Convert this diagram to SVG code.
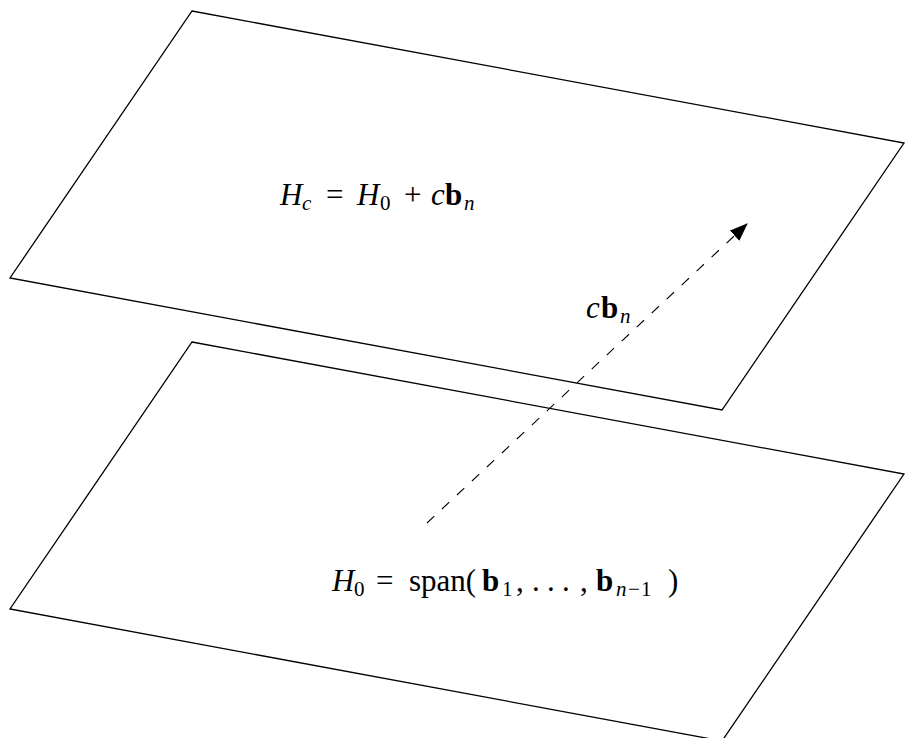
<svg xmlns="http://www.w3.org/2000/svg" width="906" height="738" viewBox="0 0 906 738">
<style>
.plane{fill:none;stroke:#000;stroke-width:1.3;stroke-linejoin:miter}
.lbl{font-family:"Liberation Serif","DejaVu Serif",serif;font-size:31px;fill:#000}
.it{font-style:italic}
.bf{font-weight:bold}
.sub{font-size:21px}
</style>
<defs>
<marker id="ah" viewBox="0 0 18 14" refX="17" refY="7" markerWidth="18" markerHeight="14" markerUnits="userSpaceOnUse" orient="auto">
<path d="M0,0 L18,7 L0,14 Z" fill="#000"/>
</marker>
</defs>
<rect width="906" height="738" fill="#fff"/>
<g id="plane-H0">
<polygon class="plane" points="192,342 904,474 722,741 10,609"/>
</g>
<g id="plane-Hc">
<polygon class="plane" points="192,11 904,143 722,410 10,278"/>
</g>
<g id="connectors">
<line x1="427" y1="523" x2="747" y2="224" stroke="#000" stroke-width="1.1" stroke-dasharray="10,10.5" marker-end="url(#ah)"/>
</g>
<g id="label-Hc">
<text class="lbl" y="205"><tspan class="it" x="280">H</tspan><tspan class="it sub" x="302" dy="5">c</tspan><tspan x="326" dy="-5">=</tspan><tspan class="it" x="357">H</tspan><tspan class="sub" x="380" dy="5">0</tspan><tspan x="404" dy="-5">+</tspan><tspan class="it" x="431">c</tspan><tspan class="bf" x="445">b</tspan><tspan class="it sub" x="464" dy="5">n</tspan></text>
</g>
<g id="label-cbn">
<text class="lbl" y="318"><tspan class="it" x="586">c</tspan><tspan class="bf" x="601">b</tspan><tspan class="it sub" x="620" dy="5">n</tspan></text>
</g>
<g id="label-H0">
<text class="lbl" y="591"><tspan class="it" x="332">H</tspan><tspan class="sub" x="354" dy="5">0</tspan><tspan x="376" dy="-5">=</tspan><tspan x="409">span(</tspan><tspan class="bf" x="482">b</tspan><tspan class="sub" x="502" dy="5">1</tspan><tspan x="516" dy="-5">,</tspan><tspan x="532">.</tspan><tspan x="547">.</tspan><tspan x="562">.</tspan><tspan x="580">,</tspan><tspan class="bf" x="596">b</tspan><tspan class="it sub" x="616" dy="5">n</tspan><tspan class="sub" x="628">−</tspan><tspan class="sub" x="641">1</tspan><tspan x="668" dy="-5">)</tspan></text>
</g>
</svg>
